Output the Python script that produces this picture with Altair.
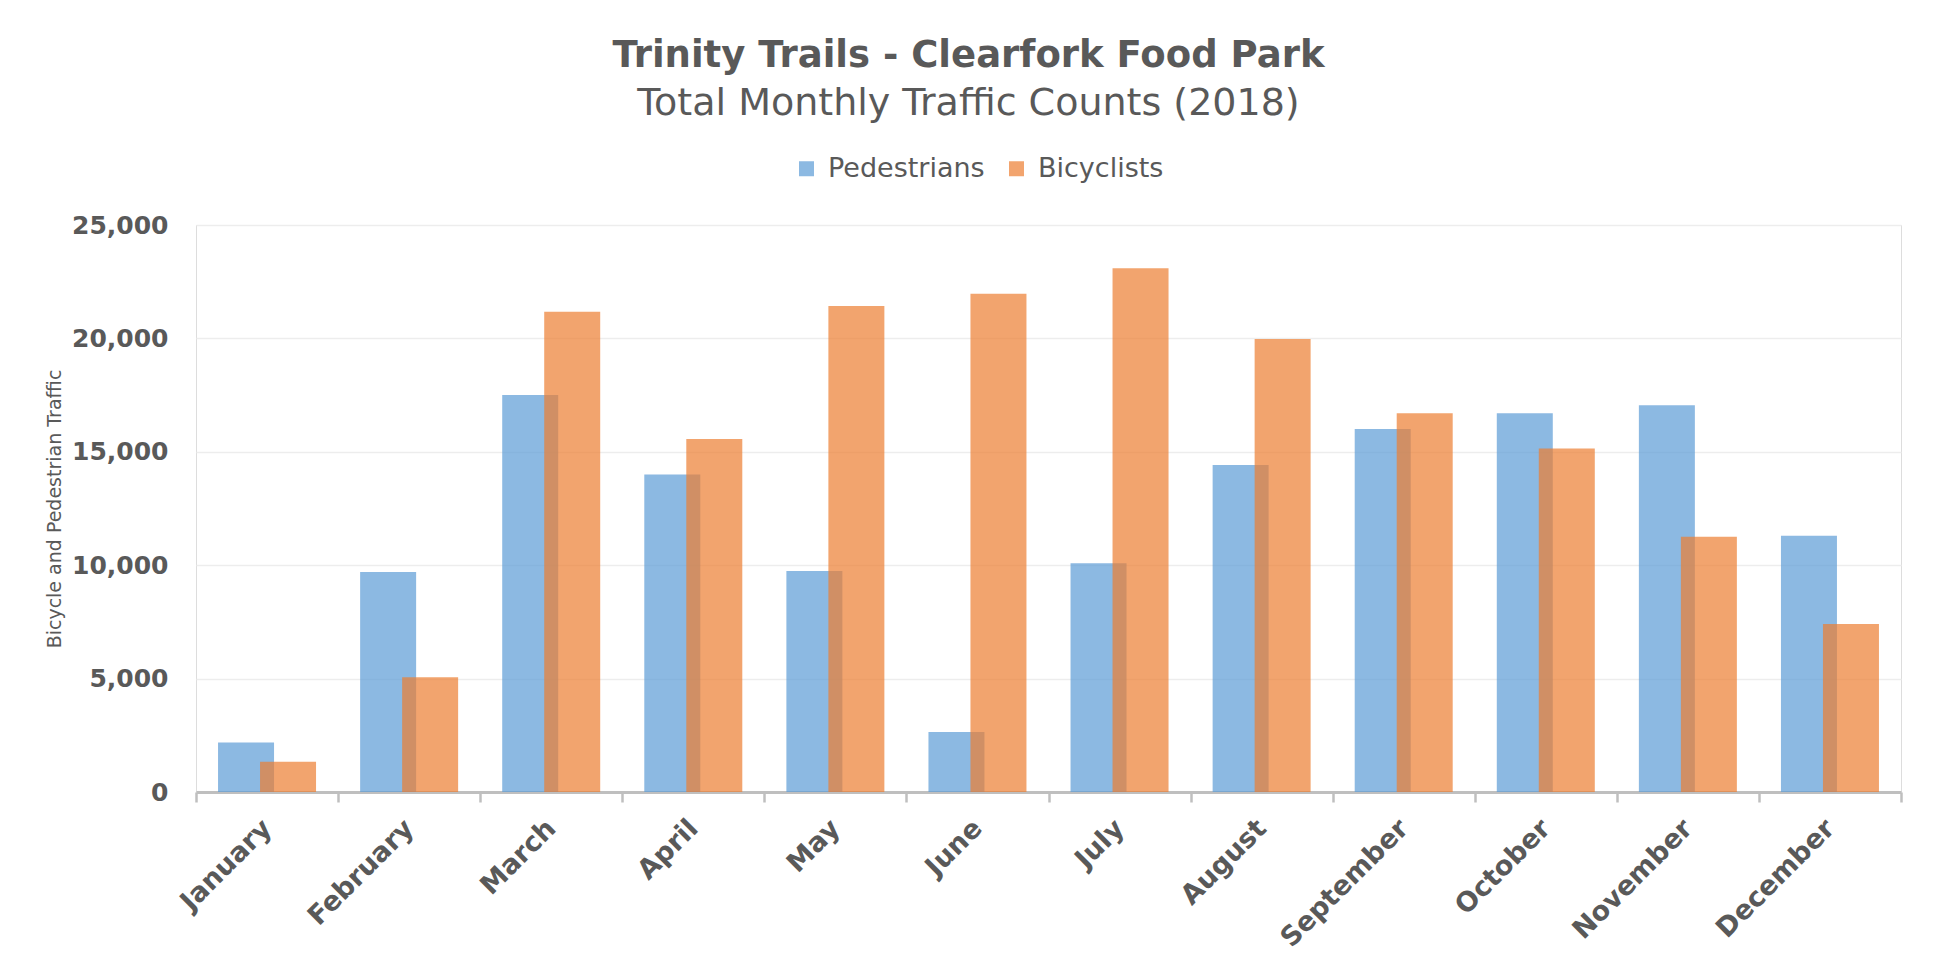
import altair as alt
import pandas as pd

months = ["January", "February", "March", "April", "May", "June", "July",
          "August", "September", "October", "November", "December"]
pedestrians = [2180, 9700, 17500, 14000, 9740, 2650, 10090, 14420, 16000, 16700, 17050, 11300]
bicyclists = [1330, 5060, 21180, 15560, 21430, 21970, 23090, 19970, 16700, 15150, 11250, 7410]
series = ["Pedestrians", "Bicyclists"]
colors = ["#5B9BD5", "#ED7D31"]
y_ticks = [0, 5000, 10000, 15000, 20000, 25000]

df = pd.DataFrame({
    "month": months * 2,
    "series": [series[0]] * len(months) + [series[1]] * len(months),
    "count": pedestrians + bicyclists,
})

FONT = "DejaVu Sans"
GREY = "#595959"
W, H = 1705, 567

x_enc = alt.X(
    "month:N", sort=months, title=None,
    scale=alt.Scale(paddingInner=0, paddingOuter=0),
    axis=alt.Axis(
        labelAngle=-45, labelAlign="right", labelBaseline="middle",
        labelFont=FONT, labelFontSize=27, labelFontWeight="bold", labelColor=GREY,
        labelPadding=22, tickBand="extent", ticks=True, tickSize=10,
        tickColor="#BFBFBF", tickWidth=2.5, domainColor="#BFBFBF", domainWidth=3,
        grid=False,
    ),
)
y_enc = alt.Y(
    "count:Q", title="Bicycle and Pedestrian Traffic",
    scale=alt.Scale(domain=[0, 25000], nice=False),
    axis=alt.Axis(
        values=y_ticks, format=",.0f", labelFont=FONT, labelFontSize=25,
        labelFontWeight="bold", labelColor=GREY, labelPadding=28,
        domain=False, ticks=False, gridColor="#EDEDED", gridWidth=1.5,
        titleFont=FONT, titleFontSize=19, titleFontWeight="normal",
        titleColor=GREY, titlePadding=7,
    ),
)
color_enc = alt.Color(
    "series:N",
    scale=alt.Scale(domain=series, range=colors),
    legend=alt.Legend(
        orient="none", legendX=597, legendY=-70, direction="horizontal",
        title=None, labelFont=FONT, labelFontSize=27, labelColor=GREY,
        symbolType="square", symbolSize=225, symbolOpacity=0.7,
        symbolStrokeWidth=0, labelOffset=8, columnPadding=18, padding=0,
    ),
)

base = alt.Chart(df).encode(x=x_enc, y=y_enc, color=color_enc)

ped = base.transform_filter(alt.datum.series == series[0]).mark_bar(
    width=56, xOffset=-21, opacity=0.7)
bike = base.transform_filter(alt.datum.series == series[1]).mark_bar(
    width=56, xOffset=21, opacity=0.7)

chart = alt.layer(ped, bike).properties(
    width=W, height=H,
    autosize=alt.AutoSizeParams(type="none"),
    padding={"left": 188, "top": 217, "right": 20, "bottom": 170},
    title=alt.TitleParams(
        text="Trinity Trails - Clearfork Food Park",
        subtitle="Total Monthly Traffic Counts (2018)",
        font=FONT, fontSize=37, fontWeight="bold", color=GREY,
        subtitleFont=FONT, subtitleFontSize=38, subtitleFontWeight="normal",
        subtitleColor=GREY, subtitlePadding=10, anchor="middle", offset=31,
        dx=-80,
    ),
).configure_view(strokeWidth=0).configure(background="white")

chart.save("out.html", embed_options={"renderer": "svg", "actions": False})
